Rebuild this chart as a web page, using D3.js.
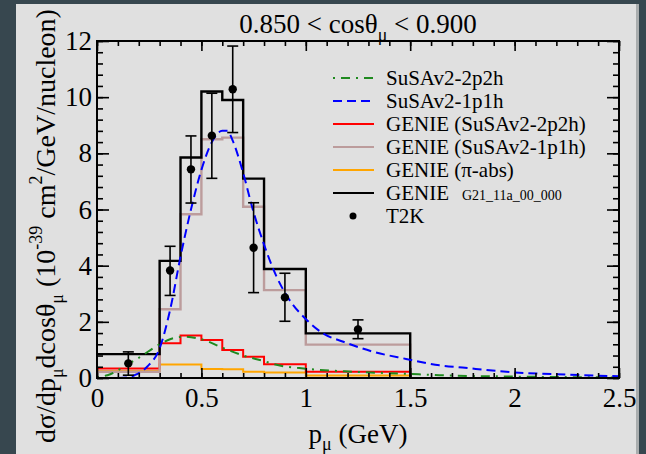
<!DOCTYPE html>
<html>
<head>
<meta charset="utf-8">
<script src="https://cdn.jsdelivr.net/npm/d3@7"></script>
<style>
  html, body { margin: 0; padding: 0; background: #37474f; }
  svg { display: block; }
  svg text, svg tspan { font-family: "Liberation Serif", "Times New Roman", Times, "DejaVu Serif", serif !important; }
</style>
</head>
<body>
<svg id="chart" width="646" height="454"></svg>
<script>
// Bin edges of the GENIE histograms (GeV)
const binEdges = [0, 0.3, 0.4, 0.5, 0.6, 0.7, 0.8, 1.0, 1.5];

// GENIE predictions per bin (10^-39 cm^2/GeV/nucleon)
const genieTotal   = [0.85, 4.17, 7.85, 10.2, 9.9, 7.1, 3.88, 1.59];
const genie1p1h    = [0.22, 2.45, 5.83, 8.5, 8.56, 6.1, 3.13, 1.19];
const genie2p2h    = [0.34, 1.24, 1.51, 1.35, 1.0, 0.76, 0.49, 0.22];
const geniePiAbs   = [0.25, 0.48, 0.48, 0.32, 0.31, 0.22, 0.2, 0.09];

// SuSAv2 continuous predictions
const susa1p1hP = [0.10, 0.15, 0.18, 0.24, 0.30, 0.35, 0.40, 0.45, 0.50, 0.55, 0.60, 0.625, 0.65, 0.70, 0.75, 0.80, 0.86, 0.92, 1.00, 1.08, 1.18, 1.32, 1.48, 1.64, 1.75, 2.00, 2.25, 2.50];
const susa1p1hV = [0.00, 0.02, 0.10, 0.40, 1.06, 2.42, 4.32, 6.00, 7.41, 8.40, 8.80, 8.80, 8.45, 7.30, 5.90, 4.75, 3.61, 2.80, 2.10, 1.60, 1.29, 0.94, 0.68, 0.45, 0.37, 0.20, 0.12, 0.06];
const susa2p2hP = [0.00, 0.05, 0.15, 0.20, 0.30, 0.35, 0.42, 0.50, 0.60, 0.70, 0.80, 0.86, 1.00, 1.24, 1.48, 1.64, 2.00, 2.50];
const susa2p2hV = [0.03, 0.10, 0.50, 0.72, 1.20, 1.38, 1.47, 1.38, 1.08, 0.80, 0.60, 0.47, 0.33, 0.22, 0.15, 0.10, 0.05, 0.02];

// T2K data points with error bars
const t2kP    = [0.15, 0.35, 0.45, 0.55, 0.65, 0.75, 0.90, 1.25];
const t2kV    = [0.52, 3.83, 7.43, 8.63, 10.28, 4.64, 2.87, 1.73];
const t2kLow  = [0.10, 2.94, 6.23, 7.11, 8.74, 3.04, 2.02, 1.40];
const t2kHigh = [0.93, 4.69, 8.62, 10.14, 11.82, 6.24, 3.73, 2.07];

// Axis ticks
const xMajor = [0, 0.5, 1, 1.5, 2, 2.5];
const xLabels = ["0", "0.5", "1", "1.5", "2", "2.5"];
const yMajor = [0, 2, 4, 6, 8, 10, 12];
const yLabels = ["0", "2", "4", "6", "8", "10", "12"];

const FONT = "'Liberation Serif', 'Times New Roman', Times, 'DejaVu Serif', serif";
const svg = d3.select("#chart").attr("font-family", FONT);
const W = 646, H = 454;
const plot = { left: 97, right: 619, top: 41, bottom: 378 };

svg.append("rect").attr("width", W).attr("height", H).attr("fill", "#37474f");
svg.append("rect").attr("x", 16).attr("y", 4).attr("width", 622).attr("height", 460).attr("fill", "#e0e0e0");
svg.append("rect").attr("x", 636).attr("y", 4).attr("width", 3).attr("height", 460).attr("fill", "#a9adae");

const x = d3.scaleLinear().domain([0, 2.5]).range([plot.left, plot.right]);
const y = d3.scaleLinear().domain([0, 12]).range([plot.bottom, plot.top]);

svg.append("defs").append("clipPath").attr("id", "plotClip")
  .append("rect").attr("x", plot.left).attr("y", plot.top)
  .attr("width", plot.right - plot.left).attr("height", plot.bottom - plot.top);

const g = svg.append("g").attr("clip-path", "url(#plotClip)");

// Step histograms: value held over each bin, closing down at the last edge
function histPoints(vals) {
  const pts = vals.map((v, i) => [binEdges[i], v]);
  pts.push([binEdges[binEdges.length - 1], 0]);
  return pts;
}
const stepLine = d3.line().x(d => x(d[0])).y(d => y(d[1])).curve(d3.curveStepAfter);
const smoothLine = d3.line().x(d => x(d[0])).y(d => y(d[1])).curve(d3.curveMonotoneX);

const hists = [
  { vals: geniePiAbs, color: "#ffa500", w: 2 },
  { vals: genie2p2h, color: "#ff0000", w: 2 },
  { vals: genie1p1h, color: "#bc9c9c", w: 2.4 },
  { vals: genieTotal, color: "#000000", w: 2.4 }
];
hists.forEach(h => {
  g.append("path").attr("d", stepLine(histPoints(h.vals)))
    .attr("fill", "none").attr("stroke", h.color).attr("stroke-width", h.w);
});

g.append("path").attr("d", smoothLine(susa2p2hP.map((p, i) => [p, susa2p2hV[i]])))
  .attr("fill", "none").attr("stroke", "#1f8a1f").attr("stroke-width", 2)
  .attr("stroke-dasharray", "2,6,9,6");
g.append("path").attr("d", smoothLine(susa1p1hP.map((p, i) => [p, susa1p1hV[i]])))
  .attr("fill", "none").attr("stroke", "#0000ff").attr("stroke-width", 2)
  .attr("stroke-dasharray", "9,5");

// T2K points
const pts = svg.append("g");
t2kP.forEach((p, i) => {
  const cx = x(p);
  pts.append("line").attr("x1", cx).attr("x2", cx).attr("y1", y(t2kLow[i])).attr("y2", y(t2kHigh[i]))
    .attr("stroke", "#000").attr("stroke-width", 1.6);
  [t2kLow[i], t2kHigh[i]].forEach(v => {
    pts.append("line").attr("x1", cx - 5.5).attr("x2", cx + 5.5).attr("y1", y(v)).attr("y2", y(v))
      .attr("stroke", "#000").attr("stroke-width", 1.6);
  });
  pts.append("circle").attr("cx", cx).attr("cy", y(t2kV[i])).attr("r", 4.2).attr("fill", "#000");
});

// Axes with inward ticks
const xMinor = d3.range(0, 2.5001, 0.1).map(v => +v.toFixed(2));
const yMinor = d3.range(0, 12.001, 0.4).map(v => +v.toFixed(2));

function styleAxis(sel) {
  sel.attr("font-family", FONT);
  sel.select(".domain").remove();
  sel.selectAll("line").attr("stroke", "#000").attr("stroke-width", 1.6);
  sel.selectAll("text").attr("font-family", FONT).style("font-size", "27px").attr("fill", "#000");
}

svg.append("g").attr("transform", `translate(0,${plot.bottom})`)
  .call(d3.axisBottom(x).tickValues(xMinor).tickSize(-5).tickFormat(""))
  .call(styleAxis);
svg.append("g").attr("transform", `translate(0,${plot.bottom})`)
  .call(d3.axisBottom(x).tickValues(xMajor).tickSize(-10).tickPadding(10)
    .tickFormat((d, i) => xLabels[i]))
  .call(styleAxis);
svg.append("g").attr("transform", `translate(0,${plot.top})`)
  .call(d3.axisTop(x).tickValues(xMinor).tickSize(-5).tickFormat(""))
  .call(styleAxis);
svg.append("g").attr("transform", `translate(0,${plot.top})`)
  .call(d3.axisTop(x).tickValues(xMajor).tickSize(-10).tickFormat(""))
  .call(styleAxis);

svg.append("g").attr("transform", `translate(${plot.left},0)`)
  .call(d3.axisLeft(y).tickValues(yMinor).tickSize(-6).tickFormat(""))
  .call(styleAxis);
svg.append("g").attr("transform", `translate(${plot.left},0)`)
  .call(d3.axisLeft(y).tickValues(yMajor).tickSize(-12).tickPadding(5)
    .tickFormat((d, i) => yLabels[i]))
  .call(styleAxis);
svg.append("g").attr("transform", `translate(${plot.right},0)`)
  .call(d3.axisRight(y).tickValues(yMinor).tickSize(-6).tickFormat(""))
  .call(styleAxis);
svg.append("g").attr("transform", `translate(${plot.right},0)`)
  .call(d3.axisRight(y).tickValues(yMajor).tickSize(-12).tickFormat(""))
  .call(styleAxis);

svg.append("rect").attr("x", plot.left).attr("y", plot.top)
  .attr("width", plot.right - plot.left).attr("height", plot.bottom - plot.top)
  .attr("fill", "none").attr("stroke", "#000").attr("stroke-width", 2);

// Title
const title = svg.append("text").attr("x", 358).attr("y", 33).attr("text-anchor", "middle")
  .attr("font-family", FONT).style("font-size", "27px");
title.append("tspan").text("0.850 < cosθ");
title.append("tspan").attr("dy", 8).style("font-size", "18px").text("μ");
title.append("tspan").attr("dy", -8).text(" < 0.900");

// x-axis title
const xt = svg.append("text").attr("x", 358).attr("y", 443).attr("text-anchor", "middle")
  .attr("font-family", FONT).style("font-size", "27px");
xt.append("tspan").text("p");
xt.append("tspan").attr("dy", 7).style("font-size", "18px").text("μ");
xt.append("tspan").attr("dy", -7).text(" (GeV)");

// y-axis title
const yt = svg.append("text").attr("transform", "translate(55,226) rotate(-90)")
  .attr("text-anchor", "middle").attr("font-family", FONT).style("font-size", "28px");
yt.append("tspan").text("dσ/dp");
yt.append("tspan").attr("dy", 8).style("font-size", "18px").text("μ");
yt.append("tspan").attr("dy", -8).text("dcosθ");
yt.append("tspan").attr("dy", 8).style("font-size", "18px").text("μ");
yt.append("tspan").attr("dy", -8).text(" (10");
yt.append("tspan").attr("dy", -13).style("font-size", "18px").text("-39");
yt.append("tspan").attr("dy", 13).text(" cm");
yt.append("tspan").attr("dy", -13).style("font-size", "18px").text("2");
yt.append("tspan").attr("dy", 13).text("/GeV/nucleon)");

// Legend
const legendItems = [
  { label: "SuSAv2-2p2h", color: "#1f8a1f", dash: "2,6,9,6", type: "line" },
  { label: "SuSAv2-1p1h", color: "#0000ff", dash: "9,5", type: "line" },
  { label: "GENIE (SuSAv2-2p2h)", color: "#ff0000", type: "line" },
  { label: "GENIE (SuSAv2-1p1h)", color: "#bc9c9c", type: "line" },
  { label: "GENIE (π-abs)", color: "#ffa500", type: "line" },
  { label: "GENIE", sub: "G21_11a_00_000", color: "#000000", type: "line" },
  { label: "T2K", color: "#000000", type: "dot" }
];
const lg = svg.append("g").attr("font-family", FONT);
legendItems.forEach((d, i) => {
  const cy = 78 + i * 23;
  if (d.type === "line") {
    lg.append("line").attr("x1", 333).attr("x2", 374).attr("y1", cy).attr("y2", cy)
      .attr("stroke", d.color).attr("stroke-width", 2)
      .attr("stroke-dasharray", d.dash || null);
  } else {
    lg.append("circle").attr("cx", 353).attr("cy", cy).attr("r", 3.5).attr("fill", d.color);
  }
  const t = lg.append("text").attr("x", 386).attr("y", cy + 7)
    .attr("font-family", FONT).style("font-size", "21px");
  t.append("tspan").text(d.label);
  if (d.sub) t.append("tspan").attr("x", 462).style("font-size", "14px").text(d.sub);
});
</script>
</body>
</html>
